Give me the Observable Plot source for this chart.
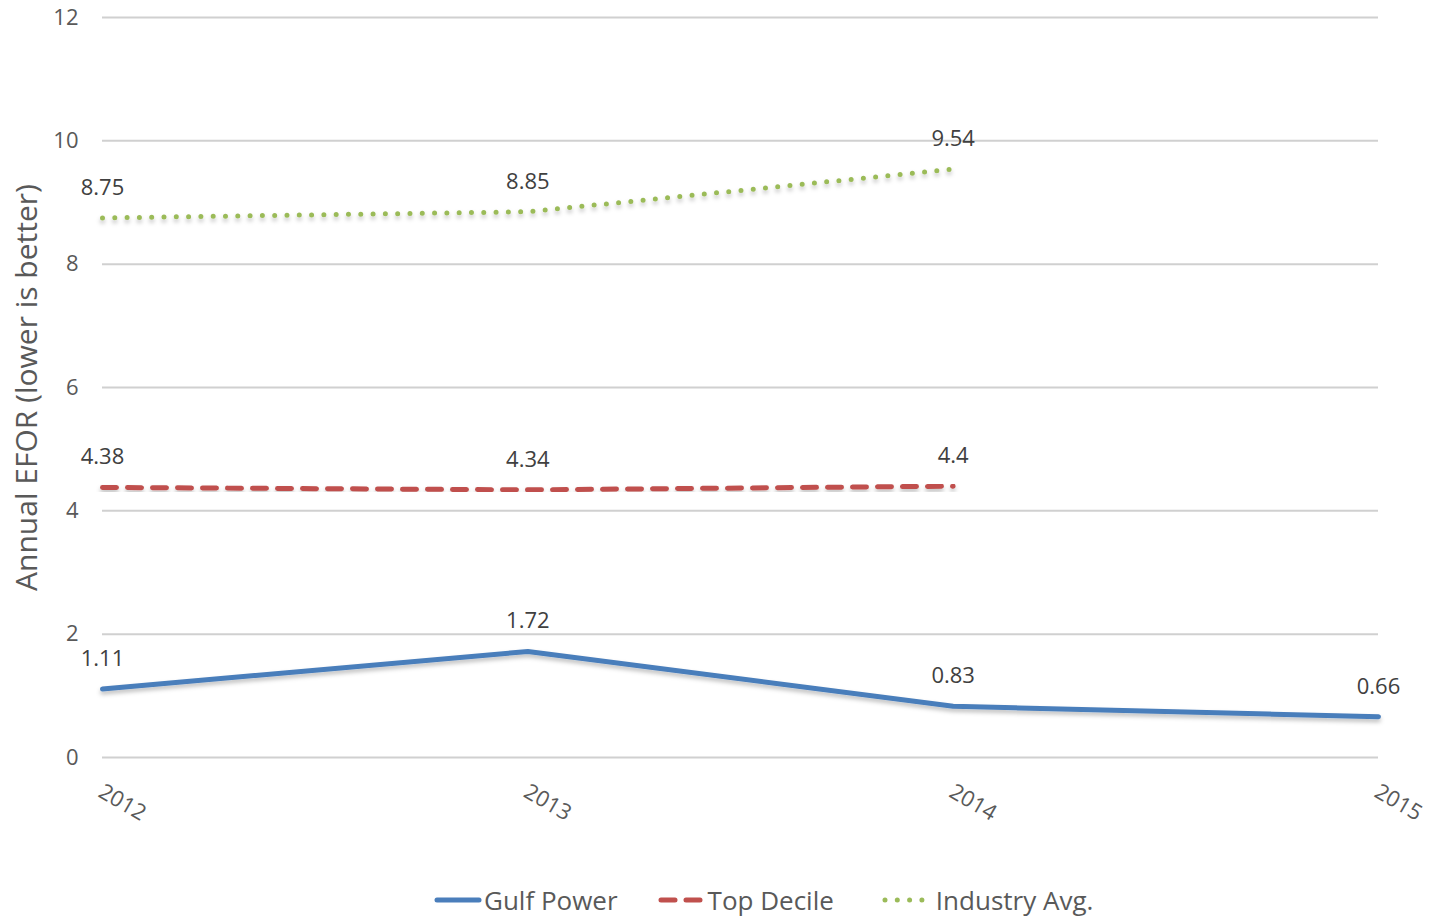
<!DOCTYPE html>
<html>
<head>
<meta charset="utf-8">
<script src="https://cdn.jsdelivr.net/npm/d3@7"></script>
<script src="https://cdn.jsdelivr.net/npm/@observablehq/plot@0.6"></script>
<style>
body { margin:0; background:#fff; font-family: "Open Sans", "Noto Sans", sans-serif; }
#chart { position:relative; width:1431px; height:919px; }
#legend { position:absolute; top:882px; left:434px; display:flex; align-items:center; font-size:26px; color:#595959; font-family:"Open Sans", sans-serif; }
#legend .item { display:flex; align-items:center; margin-right:40px; }
#legend .item:nth-child(2) { margin-right:48px; }
#legend .item:nth-child(3) svg { margin-right:6px; }
#legend svg { margin-right:2px; }
</style>
</head>
<body>
<div id="chart"></div>
<script>
const years = [2012, 2013, 2014, 2015];
const gulfPower = [1.11, 1.72, 0.83, 0.66];
const topDecile = [4.38, 4.34, 4.4];
const industryAvg = [8.75, 8.85, 9.54];
const seriesNames = ["Gulf Power", "Top Decile", "Industry Avg."];
const colors = ["#4a7ebb", "#c0504d", "#9bbb59"];
const yTicks = [0, 2, 4, 6, 8, 10, 12];

const gulfData = gulfPower.map((v, i) => ({year: years[i], value: v}));
const topData = topDecile.map((v, i) => ({year: years[i], value: v}));
const indData = industryAvg.map((v, i) => ({year: years[i], value: v}));

const labelOpts = {x: "year", y: "value", text: d => String(d.value), dy: -30, fontSize: 22, fill: "#404040"};

const plot = Plot.plot({
  width: 1431,
  height: 860,
  marginLeft: 102,
  marginRight: 53,
  marginTop: 17,
  marginBottom: 103,
  style: {fontFamily: "'Open Sans', sans-serif", background: "#fff"},
  x: {domain: [2012, 2015], label: null},
  y: {domain: [0, 12], label: null},
  marks: [
    Plot.gridY(yTicks, {stroke: "#d0d0d0", strokeOpacity: 1, strokeWidth: 2}),
    Plot.axisY(yTicks, {tickSize: 0, tickPadding: 24, tickFormat: d => String(d), fontSize: 22, fill: "#595959", label: null}),
    Plot.axisX(years, {tickSize: 0, tickFormat: d => String(d), tickRotate: 30, textAnchor: "start", dx: -2, dy: 20, fontSize: 22, fill: "#595959", label: null}),
    Plot.line(indData, {x: "year", y: "value", stroke: colors[2], strokeWidth: 5, strokeDasharray: "0,12.3", strokeLinecap: "round"}),
    Plot.line(topData, {x: "year", y: "value", stroke: colors[1], strokeWidth: 5, strokeDasharray: "14,11", strokeLinecap: "round"}),
    Plot.line(gulfData, {x: "year", y: "value", stroke: colors[0], strokeWidth: 5, strokeLinecap: "round"}),
    Plot.text(indData, labelOpts),
    Plot.text(topData, labelOpts),
    Plot.text(gulfData, labelOpts),
    Plot.text(["Annual EFOR (lower is better)"], {frameAnchor: "left", textAnchor: "middle", dx: -75, rotate: -90, fontSize: 30, fill: "#595959"})
  ]
});
document.getElementById("chart").appendChild(plot);

// soft drop shadow under the series lines
const svg = d3.select(plot);
const defs = svg.insert("defs", ":first-child");
defs.append("filter").attr("id", "shadow").attr("x", "-5%").attr("y", "-50%").attr("width", "110%").attr("height", "200%")
  .append("feDropShadow").attr("dx", 0).attr("dy", 3).attr("stdDeviation", 2).attr("flood-color", "#000").attr("flood-opacity", 0.25);
svg.selectAll("g[aria-label='line']").attr("filter", "url(#shadow)");

const legend = document.createElement("div");
legend.id = "legend";
const swatch = [
  '<line x1="3" y1="10" x2="45" y2="10" stroke="' + colors[0] + '" stroke-width="5" stroke-linecap="round"/>',
  '<line x1="3" y1="10" x2="45" y2="10" stroke="' + colors[1] + '" stroke-width="5" stroke-linecap="round" stroke-dasharray="14,11"/>',
  '<line x1="3" y1="10" x2="45" y2="10" stroke="' + colors[2] + '" stroke-width="5" stroke-linecap="round" stroke-dasharray="0,12.3"/>'
];
seriesNames.forEach((name, i) => {
  const item = document.createElement("div");
  item.className = "item";
  item.innerHTML = '<svg width="48" height="20">' + swatch[i] + '</svg><span>' + name + '</span>';
  legend.appendChild(item);
});
document.getElementById("chart").appendChild(legend);
</script>
</body>
</html>
